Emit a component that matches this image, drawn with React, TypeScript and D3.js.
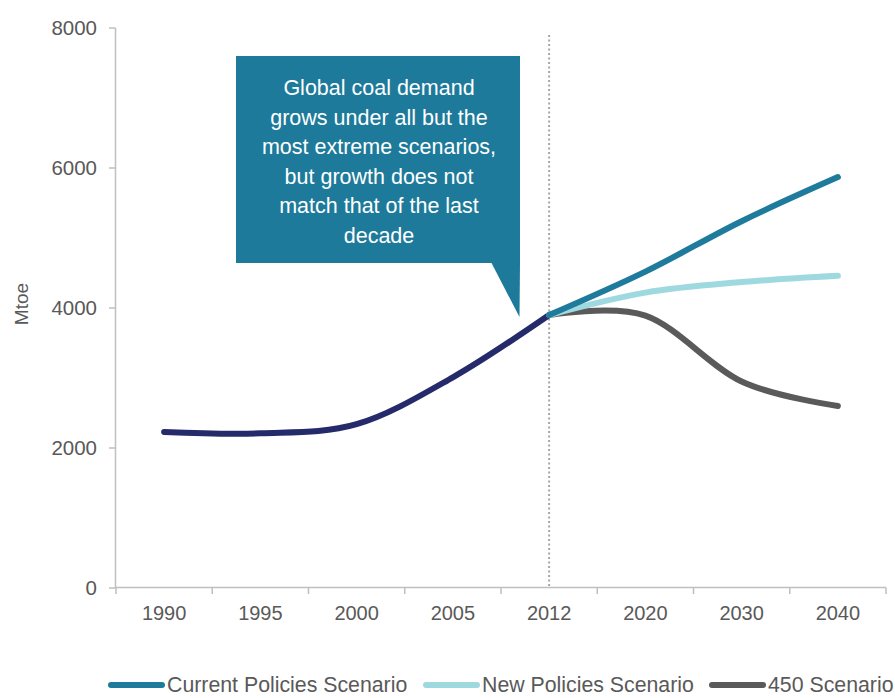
import React from "react";
import * as d3 from "d3";

const categories = ["1990", "1995", "2000", "2005", "2012", "2020", "2030", "2040"];
const historyYears = ["1990", "1995", "2000", "2005", "2012"];
const historyValues = [2230, 2210, 2340, 3010, 3900];
const scenarioYears = ["2012", "2020", "2030", "2040"];
const currentPolicies = [3900, 4520, 5240, 5870];
const newPolicies = [3900, 4220, 4370, 4460];
const scenario450 = [3900, 3890, 2950, 2600];
const yTicks = [0, 2000, 4000, 6000, 8000];
const calloutLines = [
  "Global coal demand",
  "grows under all but the",
  "most extreme scenarios,",
  "but growth does not",
  "match that of the last",
  "decade",
];
const legendItems = [
  { label: "Current Policies Scenario", color: "#1f7b9c" },
  { label: "New Policies Scenario", color: "#9fd9e0" },
  { label: "450 Scenario", color: "#5a5a5a" },
];

const FONT = "'Liberation Sans', Arial, sans-serif";

export default function App() {
  const x = d3.scaleBand<string>().domain(categories).range([116, 886]).padding(0);
  const cx = (c: string) => (x(c) as number) + x.bandwidth() / 2;
  const y = d3.scaleLinear().domain([0, 8000]).range([588, 28]);
  const line = d3
    .line<[string, number]>()
    .x((d) => cx(d[0]))
    .y((d) => y(d[1]))
    .curve(d3.curveCardinal.tension(0));
  const zip = (ks: string[], vs: number[]) => ks.map((k, i) => [k, vs[i]] as [string, number]);

  const series = [
    { vals: scenario450, color: "#5a5a5a" },
    { vals: newPolicies, color: "#9fd9e0" },
    { vals: currentPolicies, color: "#1f7b9c" },
  ];

  const legendX = [108, 423, 709];

  return (
    <svg width={895} height={698} style={{ position: "absolute", left: 0, top: 0, background: "#fff" }}>
      {/* y axis */}
      <line x1={115.5} x2={115.5} y1={28} y2={588} stroke="#bfbfbf" strokeWidth={1.5} />
      {yTicks.map((t) => (
        <g key={t}>
          <line x1={109} x2={115.5} y1={y(t)} y2={y(t)} stroke="#bfbfbf" strokeWidth={1.5} />
          <text x={97} y={y(t) + 7} textAnchor="end" fontFamily={FONT} fontSize={20.5} fill="#595959">
            {t}
          </text>
        </g>
      ))}
      <text
        transform={`translate(28,${y(4000) - 4}) rotate(-90)`}
        textAnchor="middle"
        fontFamily={FONT}
        fontSize={19}
        fill="#595959"
      >
        Mtoe
      </text>
      {/* x axis */}
      <line x1={115.5} x2={886} y1={587.5} y2={587.5} stroke="#bfbfbf" strokeWidth={1.5} />
      {categories.concat(["end"]).map((c, i) => {
        const px = 116 + i * x.bandwidth();
        return <line key={c} x1={px} x2={px} y1={587.5} y2={594} stroke="#bfbfbf" strokeWidth={1.5} />;
      })}
      {categories.map((c) => (
        <text key={c} x={cx(c)} y={620} textAnchor="middle" fontFamily={FONT} fontSize={20} fill="#595959">
          {c}
        </text>
      ))}
      {/* dotted divider */}
      <line
        x1={cx("2012")}
        x2={cx("2012")}
        y1={35}
        y2={587}
        stroke="#a6a6a6"
        strokeWidth={2}
        strokeDasharray="2,2.5"
      />
      {/* callout */}
      <rect x={236} y={56} width={284} height={207} fill="#1d7a9a" />
      <polygon points="491,262 520,262 519.5,317" fill="#1d7a9a" />
      {calloutLines.map((l, i) => (
        <text
          key={i}
          x={379}
          y={95 + i * 29.6}
          textAnchor="middle"
          fontFamily={FONT}
          fontSize={21.5}
          fill="#ffffff"
        >
          {l}
        </text>
      ))}
      {/* lines */}
      <path
        d={line(zip(historyYears, historyValues)) || ""}
        fill="none"
        stroke="#252a6b"
        strokeWidth={6}
        strokeLinecap="round"
      />
      {series.map((s, i) => (
        <path
          key={i}
          d={line(zip(scenarioYears, s.vals)) || ""}
          fill="none"
          stroke={s.color}
          strokeWidth={6}
          strokeLinecap="round"
        />
      ))}
      {/* legend */}
      {legendItems.map((it, i) => (
        <g key={it.label}>
          <line
            x1={legendX[i] + 3}
            x2={legendX[i] + 54}
            y1={685}
            y2={685}
            stroke={it.color}
            strokeWidth={6}
            strokeLinecap="round"
          />
          <text x={legendX[i] + 59} y={692} fontFamily={FONT} fontSize={21.3} fill="#595959">
            {it.label}
          </text>
        </g>
      ))}
    </svg>
  );
}
